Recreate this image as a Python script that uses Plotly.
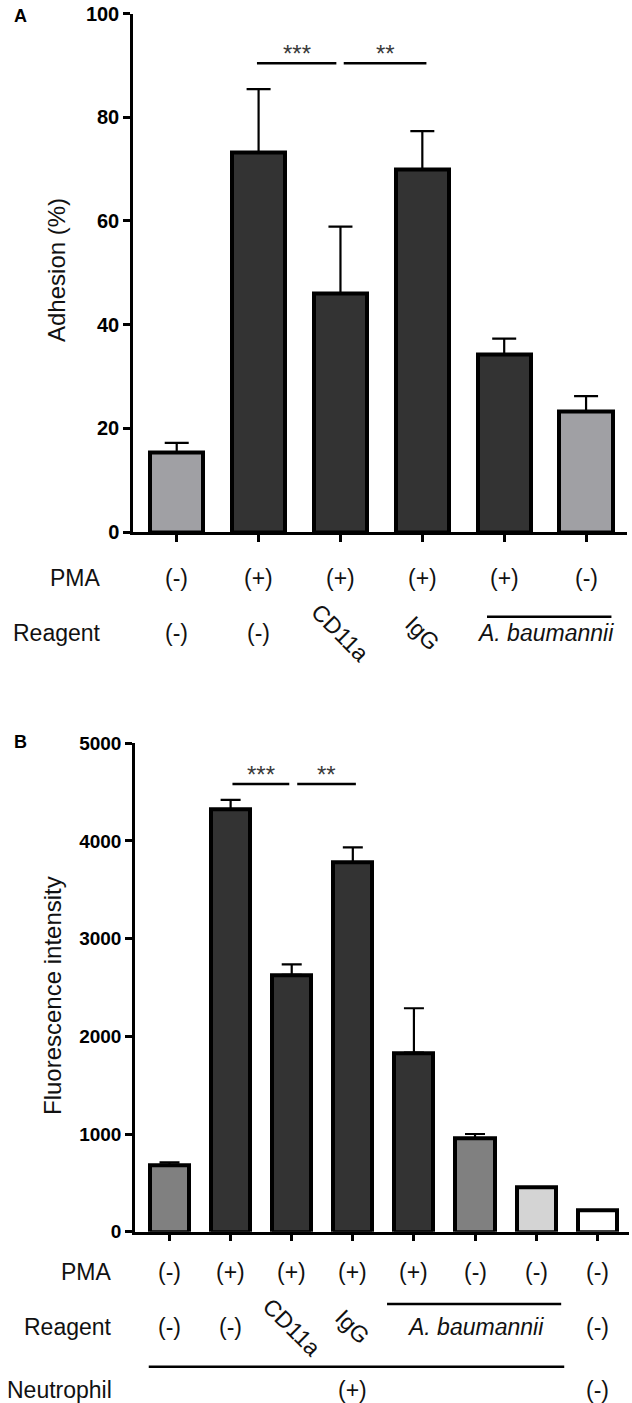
import plotly.graph_objects as go

W, H = 632, 1403
FONT = "Arial, Liberation Sans, sans-serif"
DARK = "#333333"

# ---- panel A : adhesion ----
a_vals = [15.3, 73.2, 46.0, 69.9, 34.3, 23.2]
a_err = [1.9, 12.2, 12.9, 7.4, 3.0, 3.0]
a_colors = ["#a0a0a4", DARK, DARK, DARK, DARK, "#a0a0a4"]
a_pma = ["(-)", "(+)", "(+)", "(+)", "(+)", "(-)"]
a_reagent = ["(-)", "(-)", "CD11a", "IgG", "", ""]
a_ticks = [0, 20, 40, 60, 80, 100]
a_sig = [(0.98, 1.95, 90.4, "***"), (2.04, 3.05, 90.4, "**")]

# ---- panel B : fluorescence ----
b_vals = [683, 4323, 2630, 3777, 1832, 956, 454, 215]
b_err = [27, 96, 107, 157, 455, 44, 0, 0]
b_colors = ["#808080", DARK, DARK, DARK, DARK, "#808080", "#d4d4d4", "#ffffff"]
b_pma = ["(-)", "(+)", "(+)", "(+)", "(+)", "(-)", "(-)", "(-)"]
b_reagent = ["(-)", "(-)", "CD11a", "IgG", "", "", "", "(-)"]
b_ticks = [0, 1000, 2000, 3000, 4000, 5000]
b_sig = [(1.03, 1.96, 4582, "***"), (2.09, 3.05, 4582, "**")]


def py(p):
    """pixel row -> paper y"""
    return 1 - p / H


def px(p):
    return p / W


def bar_trace(vals, err, colors, xa, ya, width):
    n = len(vals)
    return go.Bar(
        x=list(range(n)), y=vals, width=width, xaxis=xa, yaxis=ya,
        marker=dict(color=colors, line=dict(color="black", width=4)),
        error_y=dict(type="data", array=err, arrayminus=[0] * n, symmetric=False,
                     color="black", thickness=2.2, width=12 if xa == "x" else 10),
        showlegend=False, hoverinfo="skip")


fig = go.Figure()
fig.add_trace(bar_trace(a_vals, a_err, a_colors, "x", "y", 0.65))
fig.add_trace(bar_trace(b_vals, b_err, b_colors, "x2", "y2", 0.64))

axis_style = dict(showgrid=False, zeroline=False, showline=True, linecolor="black",
                  linewidth=2.5, ticks="outside", ticklen=7, tickwidth=2.5, tickcolor="black")
ytick_font = dict(family=FONT, size=20, color="black", weight="bold")

fig.update_layout(
    width=W, height=H, margin=dict(l=0, r=0, t=0, b=0, autoexpand=False),
    paper_bgcolor="white", plot_bgcolor="white", bargap=0,
    xaxis=dict(domain=[px(133), px(627)], range=[-0.534, 5.5], anchor="y",
               tickvals=list(range(6)), showticklabels=False, **axis_style),
    yaxis=dict(domain=[py(532), py(13.5)], range=[0, 100], anchor="x",
               tickvals=a_ticks, tickfont=ytick_font, **axis_style),
    xaxis2=dict(domain=[px(135), px(629)], range=[-0.565, 7.52], anchor="y2",
                tickvals=list(range(8)), showticklabels=False, **axis_style),
    yaxis2=dict(domain=[py(1231.7), py(743.2)], range=[0, 5000], anchor="x2",
                tickvals=b_ticks, tickfont=dict(ytick_font, size=19), **axis_style),
)

txt = dict(family=FONT, size=23, color="#111111")
ann = []
shapes = []


def label(x, y, text, xref="paper", **kw):
    kw.setdefault("xanchor", "center")
    kw.setdefault("yanchor", "middle")
    ann.append(dict(x=x, y=y, xref=xref, yref="paper", text=text, showarrow=False,
                    font=kw.pop("font", txt), **kw))


def rows(xref, pma, reagent, y_pma, y_reag, lab_right):
    label(px(lab_right), py(y_pma), "PMA", xanchor="right")
    label(px(lab_right), py(y_reag), "Reagent", xanchor="right")
    for i, t in enumerate(pma):
        label(i, py(y_pma), t, xref=xref)
    for i, t in enumerate(reagent):
        if t in ("CD11a", "IgG"):
            label(i, py(y_reag), t, xref=xref, textangle=45)
        elif t:
            label(i, py(y_reag), t, xref=xref)


def sig(xref, yref, items, star_shift):
    for x0, x1, y, s in items:
        shapes.append(dict(type="line", xref=xref, yref=yref, x0=x0, x1=x1, y0=y, y1=y,
                           line=dict(color="black", width=2.5)))
        ann.append(dict(x=(x0 + x1) / 2, y=y, xref=xref, yref=yref, text=s, showarrow=False,
                        xanchor="center", yanchor="bottom", yshift=star_shift,
                        font=dict(family=FONT, size=24, color="#3a3a3a")))


# panel A annotations
label(px(21), py(16), "<b>A</b>", font=dict(family=FONT, size=18, color="black"))
label(px(57), py(270), "Adhesion (%)", textangle=-90, font=dict(family=FONT, size=24, color="#111"))
rows("x", a_pma, a_reagent, 577.7, 633, 103)
label(4.5, py(633), "<i>A. baumannii</i>", xref="x")
shapes.append(dict(type="line", xref="x", yref="paper", x0=3.79, x1=5.31,
                   y0=py(616.7), y1=py(616.7), line=dict(color="black", width=2.5)))
sig("x", "y", a_sig, -6)

# panel B annotations
label(px(21), py(742), "<b>B</b>", font=dict(family=FONT, size=18, color="black"))
label(px(52), py(996), "Fluorescence intensity", textangle=-90,
      font=dict(family=FONT, size=24, color="#111"))
rows("x2", b_pma, b_reagent, 1271.7, 1326.7, 114)
label(5, py(1327), "<i>A. baumannii</i>", xref="x2")
shapes.append(dict(type="line", xref="x2", yref="paper", x0=3.56, x1=6.41,
                   y0=py(1304), y1=py(1304), line=dict(color="black", width=2.5)))
label(px(114), py(1390), "Neutrophil", xanchor="right")
label(3, py(1390), "(+)", xref="x2")
label(7, py(1390), "(-)", xref="x2")
shapes.append(dict(type="line", xref="x2", yref="paper", x0=-0.34, x1=6.46,
                   y0=py(1366.7), y1=py(1366.7), line=dict(color="black", width=2.5)))
sig("x2", "y2", b_sig, -6)

fig.update_layout(annotations=ann, shapes=shapes)
# drop the browser's default body margin so the figure sits at the page origin
fig.write_html("out.html", config={"displayModeBar": False},
               post_script="document.body.style.margin='0';")
